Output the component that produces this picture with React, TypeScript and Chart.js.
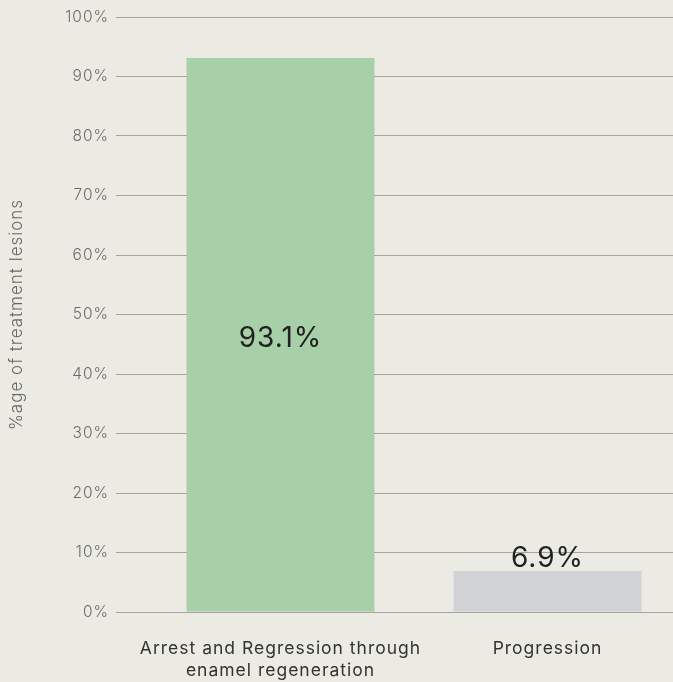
import { useEffect, useRef } from "react";
import { Chart, registerables, Plugin } from "chart.js";

Chart.register(...registerables);

// Outcome categories (multi-line tick labels) and their shares in percent
const categories: string[][] = [
  ["Arrest and Regression through", "enamel regeneration"],
  ["Progression"],
];
const shares: number[] = [93.1, 6.9];
const valueLabels: string[] = ["93.1%", "6.9%"];
const barColors: string[] = ["#a7cfa8", "#d1d2d5"];
const yTitle = "%age of treatment lesions";

const FONT = "Inter, 'Open Sans', sans-serif";
const BG = "#ebebe3";

// Slightly open tracking for every piece of text on the canvas
const trackingPlugin: Plugin<"bar"> = {
  id: "tracking",
  beforeDraw(chart) {
    (chart.ctx as any).letterSpacing = "1px";
  },
};

// Writes each bar's value: inside tall bars (centred), above short ones
const valueLabelPlugin: Plugin<"bar"> = {
  id: "valueLabels",
  afterDatasetsDraw(chart) {
    const { ctx, chartArea } = chart;
    const meta = chart.getDatasetMeta(0);
    ctx.save();
    ctx.font = `400 28px ${FONT}`;
    ctx.fillStyle = "#222222";
    ctx.textAlign = "center";
    ctx.textBaseline = "middle";
    meta.data.forEach((el: any, i: number) => {
      const { x, y, base } = el.getProps(["x", "y", "base"], true);
      const h = base - y;
      const ty = h > 120 ? y + h / 2 + 4 : y - 12;
      ctx.fillText(valueLabels[i], x, Math.max(ty, chartArea.top));
    });
    ctx.restore();
  },
};

export default function App() {
  const canvasRef = useRef<HTMLCanvasElement | null>(null);

  useEffect(() => {
    const canvas = canvasRef.current;
    if (!canvas) return;
    const chart = new Chart(canvas, {
      type: "bar",
      data: {
        labels: categories,
        datasets: [
          {
            data: shares,
            backgroundColor: barColors,
            borderWidth: 0,
            barPercentage: 0.704,
            categoryPercentage: 1,
          },
        ],
      },
      options: {
        responsive: false,
        animation: false,
        maintainAspectRatio: false,
        layout: { padding: { top: 17, left: 0, right: 0, bottom: 0 } },
        plugins: {
          legend: { display: false },
          tooltip: { enabled: false },
        },
        scales: {
          x: {
            grid: { display: false, drawTicks: false },
            border: { display: false },
            ticks: {
              padding: 26,
              color: "#333333",
              font: { family: FONT, size: 17.5, lineHeight: 1.26 },
              maxRotation: 0,
              autoSkip: false,
            },
            afterFit(scale: any) {
              scale.height = 70;
            },
          },
          y: {
            min: 0,
            max: 100,
            border: { display: false },
            grid: {
              color: "#a3a3a3",
              lineWidth: 1,
              drawTicks: true,
              tickLength: 31,
              tickColor: "#a3a3a3",
            },
            ticks: {
              stepSize: 10,
              padding: 7,
              color: "#6b6b6b",
              font: { family: FONT, size: 15.5, weight: 300 },
              callback: (v: any) => `${v}%`,
            },
            title: {
              display: true,
              text: yTitle,
              color: "#666666",
              font: { family: FONT, size: 17, weight: 300 },
              padding: { top: 7, bottom: 4 },
            },
            afterFit(scale: any) {
              scale.width = 147;
            },
          },
        },
      },
      plugins: [trackingPlugin, valueLabelPlugin],
    });
    return () => chart.destroy();
  }, []);

  return (
    <div
      style={{
        position: "fixed",
        left: 0,
        top: 0,
        width: 673,
        height: 682,
        overflow: "hidden",
        background: BG,
      }}
    >
      <canvas ref={canvasRef} width={681} height={682} style={{ display: "block" }} />
    </div>
  );
}
